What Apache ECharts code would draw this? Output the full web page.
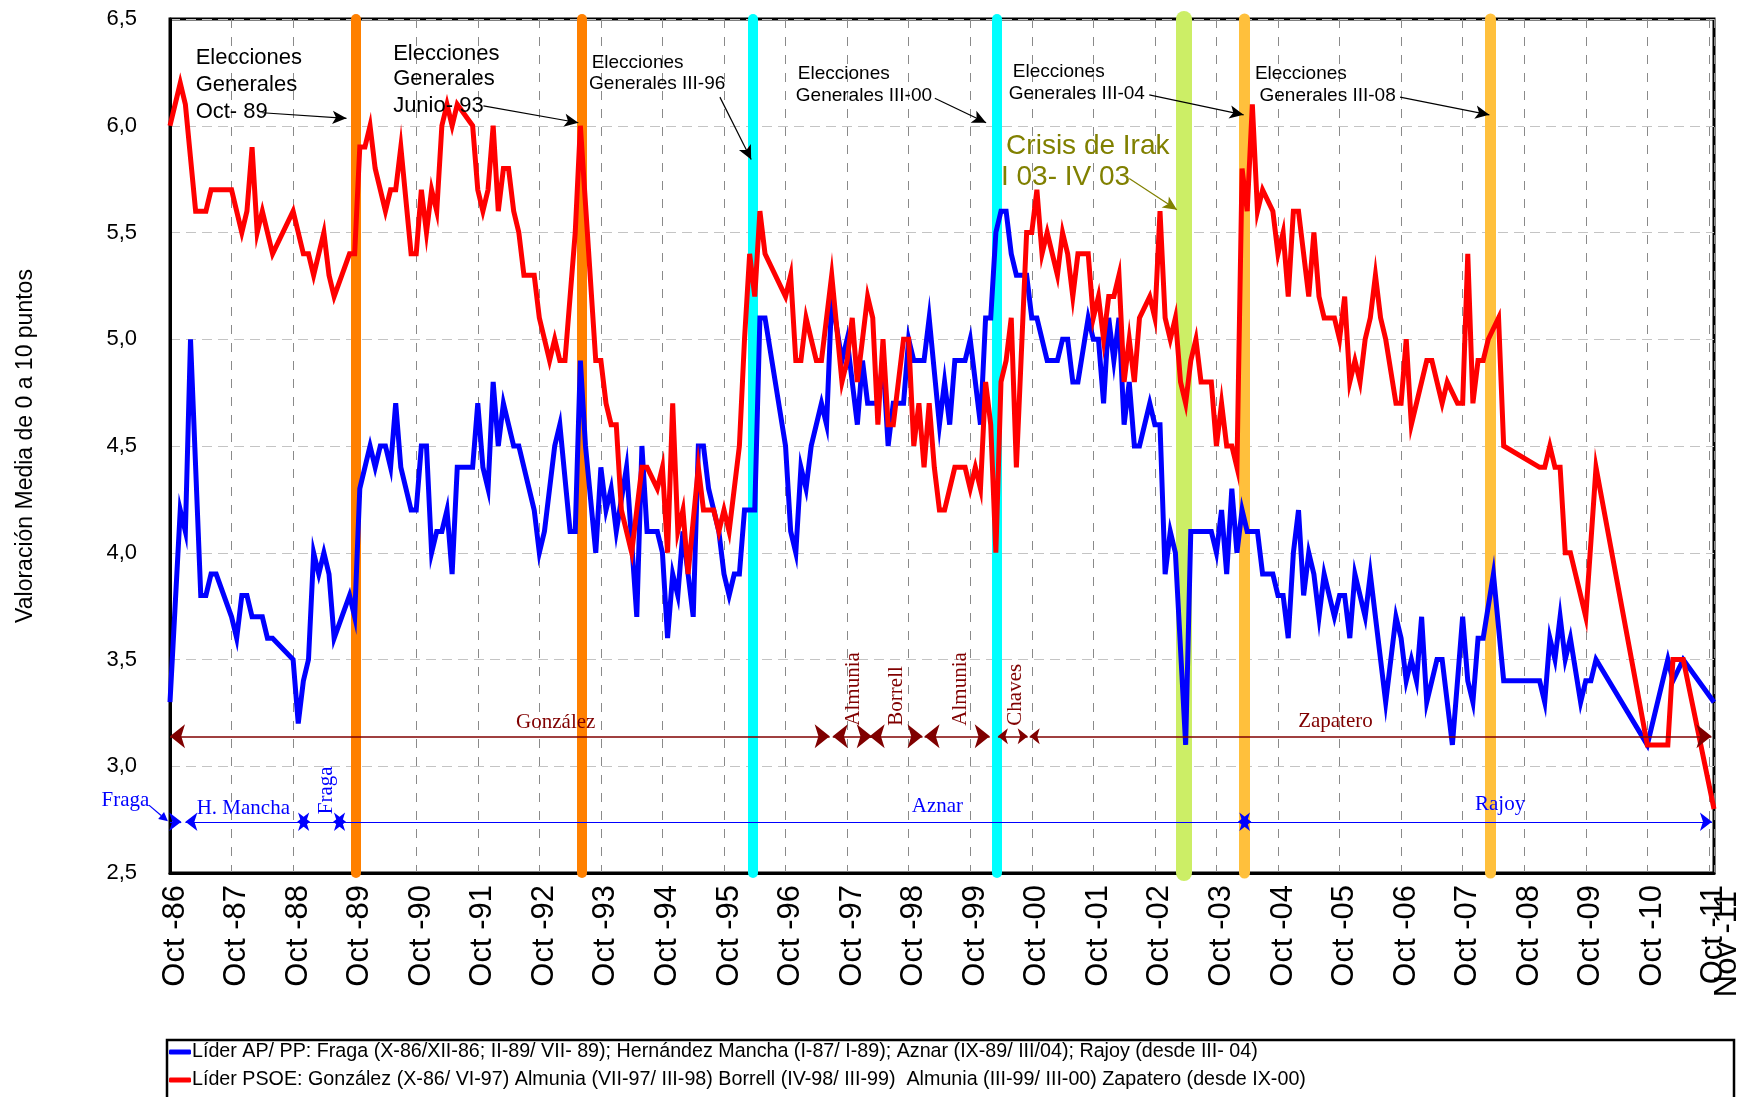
<!DOCTYPE html>
<html><head><meta charset="utf-8">
<script src="https://cdn.jsdelivr.net/npm/echarts@6/dist/echarts.min.js"></script>
<style>html,body{margin:0;padding:0;background:#fff}#c{width:1749px;height:1097px}</style>
</head><body><div id="c"></div>
<script>
// x = months since October 1986 (0 = Oct-86, 301 = Nov-11)
const bluePP = [[0,3.3],[2,4.2],[3,4.1],[4,5.0],[6,3.8],[7,3.8],[8,3.9],[9,3.9],[12,3.7],[13,3.6],[14,3.8],[15,3.8],[16,3.7],[18,3.7],[19,3.6],[20,3.6],[24,3.5],[25,3.2],[26,3.4],[27,3.5],[28,4.0],[29,3.9],[30,4.0],[31,3.9],[32,3.6],[35,3.8],[36,3.7],[37,4.3],[39,4.5],[40,4.4],[41,4.5],[42,4.5],[43,4.4],[44,4.7],[45,4.4],[46,4.3],[47,4.2],[48,4.2],[49,4.5],[50,4.5],[51,4.0],[52,4.1],[53,4.1],[54,4.2],[55,3.9],[56,4.4],[59,4.4],[60,4.7],[61,4.4],[62,4.3],[63,4.8],[64,4.5],[65,4.7],[67,4.5],[68,4.5],[71,4.2],[72,4.0],[73,4.1],[75,4.5],[76,4.6],[78,4.1],[79,4.1],[80,4.9],[81,4.5],[83,4.0],[84,4.4],[85,4.2],[86,4.3],[87,4.1],[89,4.4],[91,3.7],[92,4.5],[93,4.1],[95,4.1],[96,4.0],[97,3.6],[98,3.9],[99,3.8],[100,4.1],[102,3.7],[103,4.5],[104,4.5],[105,4.3],[107,4.1],[108,3.9],[109,3.8],[110,3.9],[111,3.9],[112,4.2],[114,4.2],[115,5.1],[116,5.1],[120,4.5],[121,4.1],[122,4.0],[123,4.4],[124,4.3],[125,4.5],[127,4.7],[128,4.6],[129,5.2],[131,4.9],[132,5.0],[134,4.6],[135,4.9],[136,4.7],[138,4.7],[139,4.9],[140,4.5],[141,4.7],[143,4.7],[144,5.0],[145,4.9],[147,4.9],[148,5.1],[150,4.6],[151,4.8],[152,4.6],[153,4.9],[155,4.9],[156,5.0],[158,4.6],[159,5.1],[160,5.1],[161,5.5],[162,5.6],[163,5.6],[164,5.4],[165,5.3],[167,5.3],[168,5.1],[169,5.1],[171,4.9],[173,4.9],[174,5.0],[175,5.0],[176,4.8],[177,4.8],[179,5.1],[180,5.0],[181,5.0],[182,4.7],[183,5.1],[184,4.9],[185,5.1],[186,4.6],[187,4.8],[188,4.5],[189,4.5],[191,4.7],[192,4.6],[193,4.6],[194,3.9],[195,4.1],[196,4.0],[198,3.1],[199,4.1],[203,4.1],[204,4.0],[205,4.2],[206,3.9],[207,4.3],[208,4.0],[209,4.2],[210,4.1],[212,4.1],[213,3.9],[215,3.9],[216,3.8],[217,3.8],[218,3.6],[219,4.0],[220,4.2],[221,3.8],[222,4.0],[223,3.9],[224,3.7],[225,3.9],[227,3.7],[228,3.8],[229,3.8],[230,3.6],[231,3.9],[233,3.7],[234,3.9],[237,3.3],[239,3.7],[240,3.6],[241,3.4],[242,3.5],[243,3.4],[244,3.7],[245,3.3],[247,3.5],[248,3.5],[249,3.3],[250,3.1],[252,3.7],[253,3.4],[254,3.3],[255,3.6],[256,3.6],[258,3.9],[260,3.4],[267,3.4],[268,3.3],[269,3.6],[270,3.5],[271,3.7],[272,3.5],[273,3.6],[275,3.3],[276,3.4],[277,3.4],[278,3.5],[288,3.1],[292,3.5],[293,3.4],[295,3.5],[301,3.3]];
const redPSOE = [[0,6.0],[2,6.2],[3,6.1],[5,5.6],[7,5.6],[8,5.7],[12,5.7],[14,5.5],[15,5.6],[16,5.9],[17,5.5],[18,5.6],[20,5.4],[24,5.6],[26,5.4],[27,5.4],[28,5.3],[30,5.5],[31,5.3],[32,5.2],[35,5.4],[36,5.4],[37,5.9],[38,5.9],[39,6.0],[40,5.8],[42,5.6],[43,5.7],[44,5.7],[45,5.9],[47,5.4],[48,5.4],[49,5.7],[50,5.5],[51,5.7],[52,5.6],[53,6.0],[54,6.1],[55,6.0],[56,6.1],[59,6.0],[60,5.7],[61,5.6],[62,5.7],[63,6.0],[64,5.6],[65,5.8],[66,5.8],[67,5.6],[68,5.5],[69,5.3],[71,5.3],[72,5.1],[74,4.9],[75,5.0],[76,4.9],[77,4.9],[79,5.5],[80,6.0],[83,4.9],[84,4.9],[85,4.7],[86,4.6],[87,4.6],[88,4.2],[90,4.0],[92,4.4],[93,4.4],[95,4.3],[96,4.4],[97,4.0],[98,4.7],[99,4.1],[100,4.2],[101,3.9],[103,4.4],[104,4.2],[106,4.2],[107,4.1],[108,4.2],[109,4.1],[111,4.5],[112,5.0],[113,5.4],[114,5.2],[115,5.6],[116,5.4],[120,5.2],[121,5.3],[122,4.9],[123,4.9],[124,5.1],[126,4.9],[127,4.9],[129,5.3],[131,4.8],[132,4.9],[133,5.1],[134,4.8],[136,5.2],[137,5.1],[138,4.6],[139,5.0],[140,4.6],[141,4.6],[143,5.0],[144,5.0],[145,4.5],[146,4.7],[147,4.4],[148,4.7],[149,4.4],[150,4.2],[151,4.2],[153,4.4],[155,4.4],[156,4.3],[157,4.4],[158,4.3],[159,4.8],[160,4.6],[161,4.0],[162,4.8],[163,4.9],[164,5.1],[165,4.4],[167,5.5],[168,5.5],[169,5.7],[170,5.4],[171,5.5],[173,5.3],[174,5.5],[175,5.4],[176,5.2],[177,5.4],[179,5.4],[180,5.1],[181,5.2],[182,5.0],[183,5.2],[184,5.2],[185,5.3],[186,4.8],[187,5.0],[188,4.8],[189,5.1],[191,5.2],[192,5.1],[193,5.6],[194,5.1],[195,5.0],[196,5.1],[197,4.8],[198,4.7],[199,4.9],[200,5.0],[201,4.8],[203,4.8],[204,4.5],[205,4.7],[206,4.5],[207,4.5],[208,4.4],[209,5.8],[210,5.6],[211,6.1],[212,5.6],[213,5.7],[215,5.6],[216,5.4],[217,5.5],[218,5.2],[219,5.6],[220,5.6],[222,5.2],[223,5.5],[224,5.2],[225,5.1],[227,5.1],[228,5.0],[229,5.2],[230,4.8],[231,4.9],[232,4.8],[233,5.0],[234,5.1],[235,5.3],[236,5.1],[237,5.0],[239,4.7],[240,4.7],[241,5.0],[242,4.6],[245,4.9],[246,4.9],[248,4.7],[249,4.8],[251,4.7],[252,4.7],[253,5.4],[254,4.7],[255,4.9],[256,4.9],[257,5.0],[259,5.1],[260,4.5],[267,4.4],[268,4.4],[269,4.5],[270,4.4],[271,4.4],[272,4.0],[273,4.0],[276,3.7],[278,4.4],[288,3.1],[292,3.1],[293,3.5],[295,3.5],[301,2.8]];

const xTickMonths = [0,12,24,36,48,60,72,84,96,108,120,132,144,156,168,180,192,204,216,228,240,252,264,276,288,300];
const xTickLabels = ['Oct -86','Oct -87','Oct -88','Oct -89','Oct -90','Oct -91','Oct -92','Oct -93','Oct -94','Oct -95','Oct -96','Oct -97','Oct -98','Oct -99','Oct -00','Oct -01','Oct -02','Oct -03','Oct -04','Oct -05','Oct -06','Oct -07','Oct -08','Oct -09','Oct -10','Oct -11'];
const xEndMonth = [301];
const xEndLabel = ['Nov -11'];
const yTicks = [2.5,3.0,3.5,4.0,4.5,5.0,5.5,6.0,6.5];

const blueName = 'Líder AP/ PP: Fraga (X-86/XII-86; II-89/ VII- 89); Hernández Mancha (I-87/ I-89); Aznar (IX-89/ III/04); Rajoy (desde III- 04)';
const redName = 'Líder PSOE: González (X-86/ VI-97) Almunia (VII-97/ III-98) Borrell (IV-98/ III-99)  Almunia (III-99/ III-00) Zapatero (desde IX-00)';

// events (month of vertical bar)
const eventMonths = [36.3, 80.2, 113.6, 161.1, 197.7, 209.5, 257.4];
const eventColors = ['#FF8000','#FF8000','#00FFFF','#00FFFF','#CCEE66','#FFC03C','#FFC03C'];
const eventWidths = [10,10,10,10,16,11,11];

// leader periods (months)
const psoeLeaders = ['González','Almunia','Borrell','Almunia','Chaves','Zapatero'];
const psoeSpans = [[0,128.6],[129.2,136.8],[136.4,146.7],[147.1,159.8],[161.4,167.2],[167.6,300.5]];
const psoeLevel = 3.14;
const ppLeaders = ['Fraga','H. Mancha','Fraga','Aznar','Rajoy'];
const ppSpans = [[0,2.2],[3.0,27.3],[24.8,34.3],[31.8,210.8],[208.2,300.6]];
const ppLevel = 2.74;

const FONT = 'Liberation Sans';
const SERIF = 'Liberation Serif';

const chart = echarts.init(document.getElementById('c'));

const tickLabelOf = {};
xTickMonths.forEach((m,i)=>{tickLabelOf[m]=xTickLabels[i];});
xEndMonth.forEach((m,i)=>{tickLabelOf[m]=xEndLabel[i];});

function arrowPair(a, b, color, w, sizeA, sizeB, symA, symB){
  return [
    {coord:a, symbol:symA, symbolSize:sizeA, lineStyle:{color:color,width:w,type:'solid'}},
    {coord:b, symbol:symB, symbolSize:sizeB}
  ];
}

const noteArrows = [
  arrowPair([18,6.061],[34.4,6.035],'#000',1.2,[10,14],[10,14],'none','arrow'),
  arrowPair([61.1,6.093],[79.6,6.014],'#000',1.2,[10,14],[10,14],'none','arrow'),
  arrowPair([107.2,6.134],[113.3,5.842],'#000',1.2,[10,14],[10,14],'none','arrow'),
  arrowPair([149.1,6.129],[159.1,6.014],'#000',1.2,[10,14],[10,14],'none','arrow'),
  arrowPair([190.9,6.145],[209.3,6.051],'#000',1.2,[10,14],[10,14],'none','arrow'),
  arrowPair([239.8,6.134],[257.2,6.051],'#000',1.2,[10,14],[10,14],'none','arrow'),
  arrowPair([187,5.753],[196.3,5.607],'#808000',1.2,[10,14],[10,14],'none','arrow')
];
const psoeArrows = psoeSpans.map((s,i)=>{
  const big=[18,15], small=[12,10];
  const szA = (i===4||i===5)?small:big;
  const szB = (i===4)?small:big;
  return arrowPair([s[0],psoeLevel],[s[1],psoeLevel],'#800000',1.5,szA,szB,'arrow','arrow');
});
const ppArrows = ppSpans.map((s,i)=>arrowPair([s[0],ppLevel],[s[1],ppLevel],'#0000FF',1.2,[14,12],[14,12],i===0?'none':'arrow','arrow'));

const commonX = {type:'value',min:0,max:301,interval:12,position:'bottom'};
const option = {
  animation:false,
  backgroundColor:'#fff',
  grid:{left:170,right:35,top:19,bottom:224,show:true,borderColor:'#000',borderWidth:3,containLabel:false},
  xAxis:[
    Object.assign({},commonX,{
      axisLine:{show:true,onZero:false,lineStyle:{color:'#000',width:3}},
      axisTick:{show:false},
      splitLine:{show:true,lineStyle:{color:'#8a8a8a',type:[9,9],width:1}},
      axisLabel:{customValues:xTickMonths,rotate:90,fontSize:31,color:'#000',fontFamily:FONT,margin:12,
        verticalAlign:'top',lineHeight:10,
        formatter:v=>tickLabelOf[v]!==undefined?tickLabelOf[v]:''}}),
    Object.assign({},commonX,{
      axisLine:{show:false,onZero:false},axisTick:{show:false},splitLine:{show:false},
      axisLabel:{customValues:xEndMonth,rotate:90,fontSize:31,color:'#000',fontFamily:FONT,margin:18,
        verticalAlign:'top',lineHeight:26,
        formatter:v=>tickLabelOf[v]!==undefined?tickLabelOf[v]:''}})
  ],
  yAxis:{type:'value',min:2.5,max:6.5,interval:0.5,
    name:'Valoración Media de 0 a 10 puntos',nameLocation:'middle',nameGap:133,
    nameTextStyle:{fontSize:23,color:'#000',fontFamily:FONT},
    axisLine:{show:true,onZero:false,lineStyle:{color:'#000',width:3}},
    axisTick:{show:false},
    axisLabel:{customValues:yTicks,fontSize:22,color:'#000',fontFamily:FONT,margin:33,formatter:v=>v.toFixed(1).replace('.',',')},
    splitLine:{show:true,lineStyle:{color:'#c4c4c4',type:[10,6],width:1}}},
  legend:{show:true,orient:'vertical',left:169,top:1042,padding:0,itemGap:8,itemWidth:22,itemHeight:5,icon:'roundRect',
    textStyle:{fontSize:19.7,color:'#000',fontFamily:FONT,padding:[0,0,0,-4]},
    data:[blueName,redName], selectedMode:false},
  graphic:[],
  series:[
    {type:'line',name:'_bars',data:[],z:1,silent:true,
      markLine:{z:1,silent:true,animation:false,symbol:'none',label:{show:false},
        data:eventMonths.map((m,i)=>({xAxis:m,lineStyle:{color:eventColors[i],width:eventWidths[i],type:'solid',cap:'round'}}))}},
    {type:'line',name:blueName,data:bluePP,z:3,symbol:'none',showSymbol:false,color:'#0000FF',
      lineStyle:{width:5,color:'#0000FF',join:'miter'}},
    {type:'line',name:redName,data:redPSOE,z:4,symbol:'none',showSymbol:false,color:'#FF0000',
      lineStyle:{width:5,color:'#FF0000',join:'miter'}},
    {type:'line',name:'_notes',data:[],z:6,silent:true,
      markLine:{z:7,silent:true,animation:false,label:{show:false},data:noteArrows.concat(psoeArrows).concat(ppArrows)}}
  ]
};
chart.setOption(option);

// ---- text annotations positioned from data coordinates
const px = (m,v)=>chart.convertToPixel({gridIndex:0},[m,v]);
const notes = [
  {t:'Elecciones',m:5.0,v:6.317,s:22},{t:'Generales',m:5.0,v:6.192,s:22},{t:'Oct- 89',m:5.0,v:6.067,s:22},
  {t:'Elecciones',m:43.5,v:6.338,s:22},{t:'Generales',m:43.5,v:6.218,s:22},{t:'Junio- 93',m:43.5,v:6.093,s:22},
  {t:'Elecciones',m:82.2,v:6.296,s:19},{t:'Generales III-96',m:81.7,v:6.197,s:19},
  {t:'Elecciones',m:122.4,v:6.244,s:19},{t:'Generales III-00',m:122.0,v:6.140,s:19},
  {t:'Elecciones',m:164.3,v:6.255,s:19},{t:'Generales III-04',m:163.5,v:6.150,s:19},
  {t:'Elecciones',m:211.5,v:6.244,s:19},{t:'Generales III-08',m:212.4,v:6.140,s:19},
  {t:'Crisis de Irak',m:163.0,v:5.905,s:28,c:'#808000'},{t:'I 03- IV 03',m:162.0,v:5.758,s:28,c:'#808000'}
];
const g = [];
notes.forEach(n=>{
  const p = px(n.m,n.v);
  g.push({type:'text',x:p[0],y:p[1],silent:true,z:10,
    style:{text:n.t,fontSize:n.s,fontFamily:FONT,fill:n.c||'#000',align:'left',verticalAlign:'middle'}});
});
// leader labels
const leaderLabels = [
  {t:psoeLeaders[0],m:75.2,v:3.205,c:'#800000'},
  {t:psoeLeaders[5],m:227.2,v:3.21,c:'#800000'},
  {t:psoeLeaders[1],m:133.2,v:3.19,c:'#800000',rot:true},
  {t:psoeLeaders[2],m:141.7,v:3.19,c:'#800000',rot:true},
  {t:psoeLeaders[3],m:154.2,v:3.19,c:'#800000',rot:true},
  {t:psoeLeaders[4],m:164.9,v:3.19,c:'#800000',rot:true},
  {t:ppLeaders[0],m:-8.7,v:2.84,c:'#0000FF'},
  {t:ppLeaders[1],m:14.3,v:2.80,c:'#0000FF'},
  {t:ppLeaders[2],m:30.5,v:2.775,c:'#0000FF',rot:true},
  {t:ppLeaders[3],m:149.6,v:2.81,c:'#0000FF'},
  {t:ppLeaders[4],m:259.3,v:2.82,c:'#0000FF'}
];
leaderLabels.forEach(n=>{
  const p = px(n.m,n.v);
  if(n.rot){
    g.push({type:'text',x:p[0],y:p[1],rotation:Math.PI/2,silent:true,z:10,
      style:{text:n.t,fontSize:21,fontFamily:SERIF,fill:n.c,align:'left',verticalAlign:'middle'}});
  } else {
    g.push({type:'text',x:p[0],y:p[1],silent:true,z:10,
      style:{text:n.t,fontSize:21,fontFamily:SERIF,fill:n.c,align:'center',verticalAlign:'middle'}});
  }
});
// small arrow from the outside "Fraga" label
(function(){
  const a = px(-4.1,2.818), b = px(-0.4,2.742);
  const dx=b[0]-a[0], dy=b[1]-a[1], L=Math.hypot(dx,dy), ux=dx/L, uy=dy/L;
  const hl=9, hw=4.5;
  const bx=b[0]-ux*hl, by=b[1]-uy*hl;
  g.push({type:'line',silent:true,z:10,shape:{x1:a[0],y1:a[1],x2:bx,y2:by},style:{stroke:'#0000FF',lineWidth:1.2}});
  g.push({type:'polygon',silent:true,z:10,shape:{points:[[b[0],b[1]],[bx-uy*hw,by+ux*hw],[bx+uy*hw,by-ux*hw]]},style:{fill:'#0000FF'}});
})();
// legend frame
g.push({type:'rect',silent:true,z:0,shape:{x:167,y:1040,width:1567,height:80},style:{fill:'none',stroke:'#000',lineWidth:2.5}});
chart.setOption({graphic:g});
</script>
</body></html>
